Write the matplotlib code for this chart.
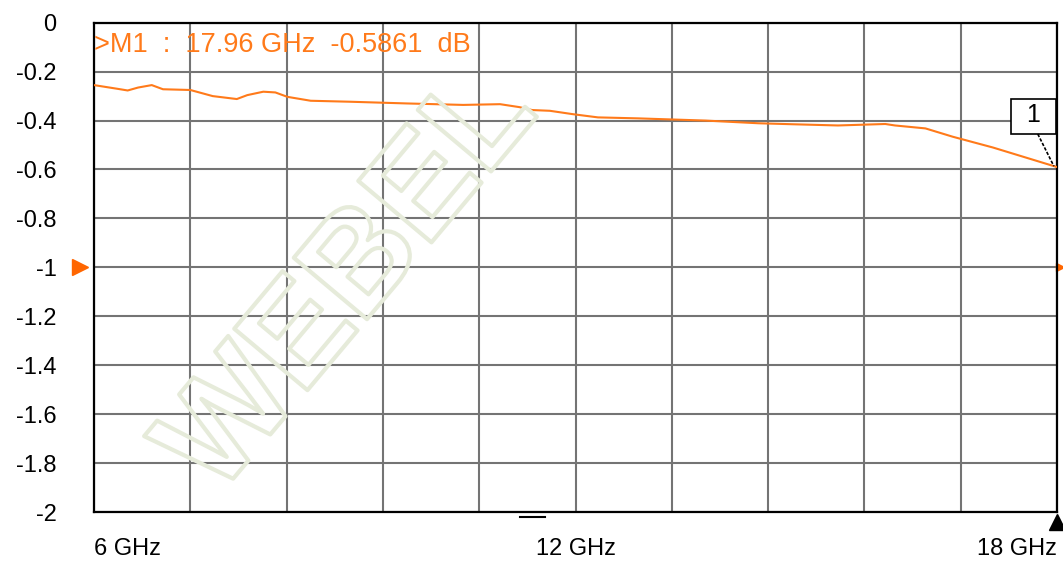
import numpy as np
import matplotlib.pyplot as plt
import matplotlib.patheffects as pe
from matplotlib.patches import Rectangle

plt.rcParams['font.family'] = ['Liberation Sans', 'DejaVu Sans']

# trace (GHz, dB)
freq_ghz = [6.00, 6.29, 6.42, 6.55, 6.72, 6.86, 7.20, 7.48, 7.78, 7.91, 8.11, 8.26,
            8.41, 8.70, 9.19, 9.90, 10.60, 11.06, 11.30, 11.46, 11.68, 11.97, 12.28,
            12.78, 13.62, 14.28, 14.70, 15.27, 15.86, 15.98, 16.36, 16.70, 17.20]
loss_db = [-0.255, -0.270, -0.277, -0.265, -0.255, -0.272, -0.275, -0.300, -0.312,
           -0.296, -0.282, -0.285, -0.303, -0.319, -0.323, -0.330, -0.336, -0.333,
           -0.345, -0.357, -0.360, -0.374, -0.387, -0.391, -0.400, -0.411, -0.415,
           -0.420, -0.414, -0.420, -0.432, -0.466, -0.510]
marker_f = 17.96
marker_db = -0.5861
ref_level = -1

y_ticks = [0, -0.2, -0.4, -0.6, -0.8, -1, -1.2, -1.4, -1.6, -1.8, -2]
y_labels = ['0', '-0.2', '-0.4', '-0.6', '-0.8', '-1', '-1.2', '-1.4', '-1.6', '-1.8', '-2']
x_labels = ['6 GHz', '12 GHz', '18 GHz']

orange = '#ff7a1a'

fig = plt.figure(figsize=(10.63, 5.65), dpi=100)
ax = fig.add_axes([0.0884, 0.0938, 0.9060, 0.866])

# faint watermark
fig.text(0.33, 0.50, 'WEBEL', fontsize=100, rotation=50, color='none',
         ha='center', va='center', fontweight='bold', zorder=0,
         path_effects=[pe.withStroke(linewidth=3, foreground='#e6ebda')])

ax.set_facecolor('none')
ax.set_xlim(6, 18)
ax.set_ylim(-2, 0)
ax.set_xticks(np.linspace(6, 18, 11))
ax.set_xticklabels([])
ax.set_yticks(y_ticks)
ax.set_yticklabels(y_labels, fontsize=17)
ax.tick_params(length=0, pad=27)
ax.grid(True, color='#747474', lw=1.5)
for s in ax.spines.values():
    s.set_linewidth(1.6)
    s.set_color('black')

f = freq_ghz + [marker_f, 18.0]
d = loss_db + [marker_db, -0.59]
ax.plot(f, d, color=orange, lw=1.5, zorder=3)

ax.text(0.0, 0.955, '>M1  :  %.2f GHz  %.4f  dB' % (marker_f, marker_db),
        transform=ax.transAxes, color=orange, fontsize=19.5, va='center', ha='left')

# marker 1 label box
ax.add_patch(Rectangle((17.43, -0.455), 0.56, 0.145, fill=True, facecolor='white',
                       edgecolor='black', lw=1.2, zorder=4, clip_on=False))
ax.text(17.70, -0.378, '1', fontsize=18, ha='center', va='center', zorder=5)
ax.plot([17.76, marker_f], [-0.455, marker_db], color='black', ls=(0, (2, 1)),
        lw=1.2, zorder=4)

# reference level arrows
ax.plot([-0.014], [ref_level], marker='>', color='#ff6600', markersize=12,
        transform=ax.get_yaxis_transform(), clip_on=False)
ax.plot([1.003], [ref_level], marker='>', color='#ff6600', markersize=6,
        transform=ax.get_yaxis_transform(), clip_on=False)
# stimulus arrows
ax.plot([18], [-2.04], marker='^', color='black', markersize=11, clip_on=False)
ax.plot([11.31, 11.62], [-2.022, -2.022], color='black', lw=1.5, clip_on=False)

for x, lab, ha in zip([6, 12, 18], x_labels, ['left', 'center', 'right']):
    ax.text(x, -2.15, lab, fontsize=17, ha=ha, va='center', clip_on=False)

fig.savefig('out.png', dpi=100)
